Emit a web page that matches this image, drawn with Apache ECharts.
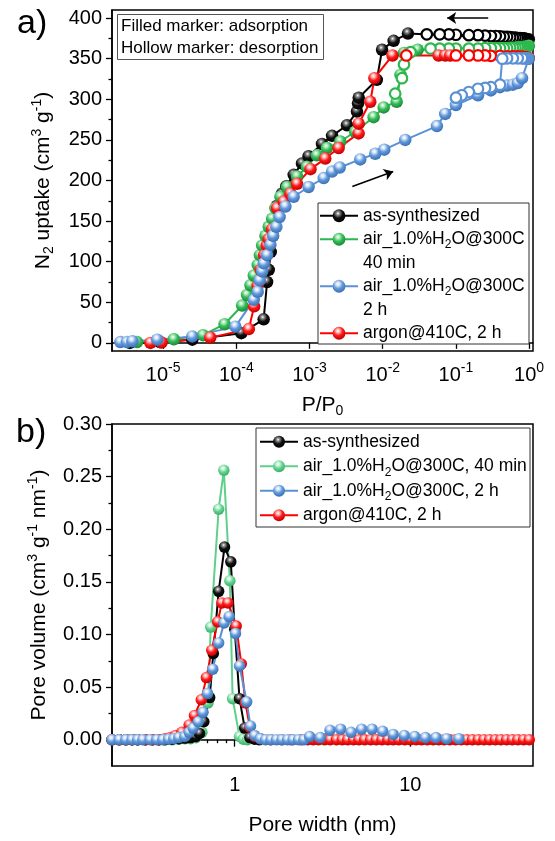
<!DOCTYPE html>
<html>
<head>
<meta charset="utf-8">
<script src="https://cdn.jsdelivr.net/npm/echarts@6/dist/echarts.min.js"></script>
<style>html,body{margin:0;padding:0;background:#fff}#c{width:555px;height:841px}</style>
</head>
<body>
<div id="c"></div>
<script>
// ===================== DATA =====================
// (a) N2 isotherms: relative pressure P/P0 and uptake (cm3 g-1)
const blackAdsP = [3.5e-6, 9e-6, 2.5e-5, 1.17e-4, 2.36e-4, 2.63e-4, 2.77e-4, 2.95e-4, 3.15e-4, 3.35e-4, 3.6e-4, 4.22e-4, 4.82e-4, 6.07e-4, 7.88e-4, 9.7e-4, 1.48e-3, 2.03e-3, 3.25e-3, 4.45e-3, 4.6e-3, 4.7e-3, 8.3e-3, 9.8e-3, 0.0141, 0.0221, 0.99];
const blackAdsV = [0, 1, 4, 12, 29, 75, 90, 112, 132, 150, 169, 184, 193, 207, 221, 230, 245, 255, 268, 285, 295, 302, 324, 361, 372, 381, 374];
const blackDesP = [0.95, 0.9, 0.85, 0.8, 0.75, 0.7, 0.65, 0.6, 0.55, 0.5, 0.45, 0.4, 0.35, 0.3, 0.25, 0.2, 0.15, 0.1, 0.08, 0.06, 0.04];
const blackDesV = [374, 374.5, 375, 375, 375.5, 375.5, 376, 376, 376.5, 377, 377, 377.5, 378, 378, 378.5, 379, 379, 379.5, 380, 380, 380];

const greenAdsP = [4.4e-6, 1.4e-5, 3.5e-5, 6.9e-5, 1.2e-4, 1.4e-4, 1.56e-4, 1.73e-4, 1.96e-4, 2.1e-4, 2.25e-4, 2.5e-4, 2.77e-4, 3.08e-4, 3.41e-4, 4.0e-4, 4.93e-4, 6.75e-4, 9.2e-4, 1.26e-3, 1.73e-3, 2.63e-3, 4.2e-3, 7.5e-3, 0.0103, 0.0155, 0.0175, 0.0195, 0.03, 0.99];
const greenAdsV = [1, 4.5, 9.5, 23, 46, 59, 71, 83, 96, 108, 120, 132, 143, 153, 166, 180, 192, 205, 217, 231, 240, 248, 260, 278, 290, 297, 330, 357, 361, 366];
const greenDesP = [0.95, 0.9, 0.85, 0.8, 0.75, 0.7, 0.65, 0.6, 0.55, 0.5, 0.45, 0.4, 0.35, 0.3, 0.25, 0.2, 0.15, 0.1, 0.08, 0.06, 0.045, 0.024, 0.0195, 0.0183, 0.0148];
const greenDesV = [365, 364.5, 364.5, 364, 364, 364, 363.5, 363.5, 363.5, 363, 363, 363, 363, 363, 363, 362.5, 362.5, 362.5, 362.5, 362.5, 362.5, 358, 343, 326, 307];

const blueAdsP = [2.6e-6, 3.2e-6, 3.8e-6, 8.3e-6, 2.5e-5, 9.7e-5, 1.73e-4, 1.96e-4, 2.08e-4, 2.25e-4, 2.37e-4, 2.63e-4, 2.92e-4, 3.18e-4, 3.52e-4, 3.9e-4, 4.68e-4, 6.07e-4, 9.7e-4, 1.56e-3, 2.03e-3, 2.58e-3, 4.93e-3, 7.9e-3, 0.0105, 0.0203, 0.055, 0.0714, 0.1, 0.2, 0.3, 0.4, 0.5, 0.6, 0.7, 0.8, 0.99];
const blueAdsV = [1, 1, 2, 4, 8, 20, 53, 63, 77, 88, 98, 108, 121, 132, 143, 155, 168, 180, 192, 203, 211, 216, 226, 233, 238, 250, 267, 282, 293, 305, 311, 315, 317, 318, 320, 326, 350];
const blueDesP = [0.95, 0.9, 0.85, 0.8, 0.7, 0.6, 0.5, 0.43, 0.4, 0.3, 0.25, 0.2, 0.15, 0.12, 0.1];
const blueDesV = [350.5, 350.5, 350.5, 350.5, 350.5, 350.5, 350.5, 350, 318, 315, 314, 313, 309, 305, 302];

const redAdsP = [6.7e-6, 9.5e-6, 4.4e-5, 1.48e-4, 1.75e-4, 1.95e-4, 2.15e-4, 2.4e-4, 2.6e-4, 2.77e-4, 3.08e-4, 3.6e-4, 4.43e-4, 5.47e-4, 6.75e-4, 1.03e-3, 1.64e-3, 2.5e-3, 4.68e-3, 4.7e-3, 6.76e-3, 7.7e-3, 0.0136, 0.058, 0.0715, 0.0836, 0.99];
const redAdsV = [0, 0.5, 6.5, 17, 45, 70, 90, 108, 120, 128, 140, 166, 174, 184, 196, 214, 227, 240, 258, 270, 297, 326, 354, 354, 354, 354, 351];
const redDesP = [0.95, 0.9, 0.8, 0.7, 0.6, 0.5, 0.4, 0.3, 0.25, 0.2, 0.15, 0.1, 0.021];
const redDesV = [351, 352, 352.5, 353, 353, 353, 353.5, 353.5, 354, 354, 354, 354, 354];

// arrows (data coordinates): [P, uptake]
const arrowDesFrom = [0.276, 400], arrowDesTo = [0.076, 400];
const arrowAdsFrom = [3.84e-3, 192.6], arrowAdsTo = [0.0139, 211];

// (b) pore size distributions: pore width (nm) and pore volume (cm3 g-1 nm-1)
const psdBlackW = [0.20, 0.22, 0.24, 0.26, 0.28, 0.31, 0.34, 0.37, 0.40, 0.44, 0.48, 0.52, 0.56, 0.60, 0.63, 0.667, 0.72, 0.755, 0.81, 0.875, 0.95, 1.00, 1.065, 1.14, 1.22, 1.30, 1.38];
const psdBlackV = [0, 0, 0, 0, 0, 0, 0, 0, 0, 0.0005, 0.001, 0.0015, 0.002, 0.003, 0.006, 0.017, 0.040, 0.082, 0.141, 0.183, 0.169, 0.105, 0.039, 0.011, 0.002, 0.0005, 0];
const psdGreenW = [0.20, 0.22, 0.24, 0.26, 0.28, 0.31, 0.34, 0.37, 0.40, 0.44, 0.48, 0.52, 0.56, 0.60, 0.65, 0.705, 0.73, 0.81, 0.867, 0.938, 0.973, 1.065, 1.12, 1.18];
const psdGreenV = [0, 0, 0, 0, 0, 0, 0, 0, 0, 0, 0.0005, 0.001, 0.001, 0.002, 0.007, 0.035, 0.107, 0.219, 0.256, 0.151, 0.039, 0.003, 0.0005, 0];
const psdBlueW = [0.20, 0.22, 0.24, 0.26, 0.28, 0.30, 0.33, 0.36, 0.39, 0.42, 0.45, 0.48, 0.52, 0.55, 0.58, 0.62, 0.66, 0.70, 0.75, 0.81, 0.87, 0.93, 1.01, 1.065, 1.17, 1.23, 1.30, 1.40, 1.50, 1.61, 1.73, 1.86, 2.00, 2.15, 2.31, 2.48, 2.67, 3.07, 3.49, 4.01, 4.60, 5.28, 6.06, 6.96, 7.99, 9.25, 10.6, 12.2, 14.0, 16.1, 18.9];
const psdBlueV = [0, 0, 0, 0, 0, 0, 0, 0, 0, 0.0005, 0.001, 0.002, 0.003, 0.007, 0.011, 0.017, 0.026, 0.044, 0.067, 0.092, 0.111, 0.117, 0.101, 0.070, 0.036, 0.013, 0.004, 0.001, 0, 0, 0, 0, 0, 0, 0, 0, 0.003, 0.002, 0.009, 0.010, 0.007, 0.010, 0.010, 0.008, 0.005, 0.004, 0.003, 0.002, 0.002, 0.001, 0.001];
const psdRedW = [0.20, 0.22, 0.24, 0.26, 0.28, 0.31, 0.34, 0.37, 0.40, 0.43, 0.46, 0.50, 0.55, 0.59, 0.645, 0.69, 0.74, 0.80, 0.845, 0.915, 1.02, 1.09, 1.15, 1.22, 1.30, 1.40, 1.6, 1.85, 2.1, 2.4, 2.6, 2.8, 3.0, 3.25, 3.5, 3.8, 4.1, 4.4, 4.75, 5.1, 5.5, 5.95, 6.4, 6.9, 7.45, 8.0, 8.6, 9.3, 10.0, 10.8, 11.6, 12.5, 13.5, 14.5, 15.6, 16.8, 18.1, 19.5, 21.0, 22.6, 24.4, 26.3, 28.3, 30.5, 32.8, 35.4, 38.1, 41.0, 44.2, 47.6];
const psdRedV = [0, 0, 0, 0, 0, 0, 0, 0, 0.001, 0.002, 0.004, 0.007, 0.014, 0.023, 0.038, 0.059, 0.085, 0.112, 0.130, 0.130, 0.108, 0.072, 0.035, 0.012, 0.003, 0.001, 0, 0, 0, 0, 0, 0, 0, 0, 0, 0, 0, 0, 0, 0, 0, 0, 0, 0, 0, 0, 0, 0, 0, 0, 0, 0, 0, 0, 0, 0, 0, 0, 0, 0, 0, 0, 0, 0, 0, 0, 0, 0, 0, 0];

// names
const nameBlack = 'as-synthesized';
const nameGreenA = 'air_1.0%H2O@300C\n40 min';
const nameBlueA = 'air_1.0%H2O@300C\n2 h';
const nameRed = 'argon@410C, 2 h';
const nameGreenB = 'air_1.0%H2O@300C, 40 min';
const nameBlueB = 'air_1.0%H2O@300C, 2 h';

// ticks
const isoXTicks = [1e-5, 1e-4, 1e-3, 1e-2, 1e-1, 1];
const isoYTicks = [0, 50, 100, 150, 200, 250, 300, 350, 400];
const isoYMinor = [25, 75, 125, 175, 225, 275, 325, 375];
const psdXTicks = [1, 10];
const psdXMinor = [0.3, 0.4, 0.5, 0.6, 0.7, 0.8, 0.9, 2, 3, 4, 5, 6, 7, 8, 9, 20, 30, 40];
const psdYTicks = [0, 0.05, 0.10, 0.15, 0.20, 0.25, 0.30];
const psdYMinor = [0.025, 0.075, 0.125, 0.175, 0.225, 0.275];

// ===================== STYLE =====================
const FONT = '"Liberation Sans", Arial, Helvetica, sans-serif';
const C = {
  black: {line: '#000000', base: '#101010', light: '#8c8c8c', dark: '#000000'},
  green: {line: '#2db84e', base: '#33bb55', light: '#b5ecc2', dark: '#1f8a3a'},
  greenB: {line: '#5fd08a', base: '#66d392', light: '#d0f5de', dark: '#3fae6c'},
  blue: {line: '#5a90d4', base: '#6199dc', light: '#dbe8f8', dark: '#3d72b5'},
  red: {line: '#ff0000', base: '#ff1a1a', light: '#ffc0c0', dark: '#c40000'}
};
function ball(c) {
  return {type: 'radial', x: 0.42, y: 0.32, r: 0.66, colorStops: [
    {offset: 0, color: '#ffffff'}, {offset: 0.2, color: c.light},
    {offset: 0.55, color: c.base}, {offset: 1, color: c.dark}]};
}
function isoSeries(name, c, aP, aV, dP, dV) {
  const data = aP.map((p, i) => [p, aV[i]]);
  dP.forEach((p, i) => data.push({value: [p, dV[i]], symbolSize: 10.5,
    itemStyle: {color: '#ffffff', borderColor: c.line, borderWidth: 2.2}}));
  return {type: 'line', name: name, xAxisIndex: 0, yAxisIndex: 0, data: data,
    symbol: 'circle', symbolSize: 12.5, showAllSymbol: true,
    lineStyle: {color: c.line, width: 2}, itemStyle: {color: ball(c)},
    emphasis: {disabled: true}, animation: false};
}
function psdSeries(name, c, W, V) {
  return {type: 'line', name: name, xAxisIndex: 1, yAxisIndex: 2,
    data: W.map((w, i) => [w, V[i]]), symbol: 'circle', symbolSize: 11.5, showAllSymbol: true,
    lineStyle: {color: c.line, width: 2}, itemStyle: {color: ball(c)},
    emphasis: {disabled: true}, animation: false};
}
const axisLineStyle = {show: true, lineStyle: {color: '#000', width: 1.5}};
const tickLine = {color: '#000', width: 1.3};
const nameRich = {
  sub: {fontSize: 14, verticalAlign: 'bottom', lineHeight: 14},
  sup: {fontSize: 14, verticalAlign: 'top', lineHeight: 14}
};
const nameStyle = {fontSize: 21, color: '#000', lineHeight: 26, fontFamily: FONT, rich: nameRich};

const blackTop = isoSeries(nameBlack, C.black, blackAdsP, blackAdsV, blackDesP, blackDesV);
blackTop.markLine = {
  silent: true, symbol: ['none', 'arrow'], symbolSize: 9, animation: false,
  label: {show: false}, lineStyle: {color: '#000', width: 1.6, type: 'solid'},
  emphasis: {disabled: true},
  data: [[{coord: arrowDesFrom}, {coord: arrowDesTo}], [{coord: arrowAdsFrom}, {coord: arrowAdsTo}]]
};

const legendRich = {sub: {fontSize: 12, verticalAlign: 'bottom', lineHeight: 12}};
const L1 = 23.5, L2 = 24.5;

const option = {
  animation: false,
  backgroundColor: '#ffffff',
  textStyle: {fontFamily: FONT},
  title: [
    {text: 'a)', left: 17, top: 6, padding: 0, textStyle: {fontSize: 34, fontWeight: 'normal', lineHeight: 36, color: '#000', fontFamily: FONT}},
    {text: 'b)', left: 16, top: 415, padding: 0, textStyle: {fontSize: 34, fontWeight: 'normal', lineHeight: 36, color: '#000', fontFamily: FONT}},
    {text: 'Filled marker: adsorption\nHollow marker: desorption', left: 117, top: 14, padding: [1, 5, 1, 4],
      borderColor: '#555', borderWidth: 1, backgroundColor: '#fff',
      textStyle: {fontSize: 17, lineHeight: 22, fontWeight: 'normal', color: '#000', fontFamily: FONT}}
  ],
  graphic: [
    {type: 'rect', shape: {x: 318, y: 203, width: 211, height: 141}, style: {fill: '#fff', stroke: '#333', lineWidth: 1}, z: 3, silent: true},
    {type: 'rect', shape: {x: 256, y: 428, width: 274, height: 99}, style: {fill: '#fff', stroke: '#333', lineWidth: 1}, z: 3, silent: true}
  ],
  legend: [
    {orient: 'vertical', left: 319, top: 204, itemWidth: 38, itemHeight: 16, itemGap: -L1, padding: 0,
      selectedMode: false, z: 5,
      textStyle: {fontSize: 17.5, lineHeight: L1, color: '#000', fontFamily: FONT, rich: legendRich},
      formatter: n => n.replace('H2O', 'H{sub|2}O'),
      data: [{name: nameBlack},
        {name: nameGreenA, textStyle: {padding: [L1, 0, 0, 0]}},
        {name: nameBlueA, textStyle: {padding: [L1, 0, 0, 0]}},
        {name: nameRed, textStyle: {padding: [L1, 0, L1, 0]}}]},
    {orient: 'vertical', left: 259, top: 429.5, itemWidth: 38, itemHeight: 15, itemGap: 0, padding: 0,
      selectedMode: false, z: 5,
      textStyle: {fontSize: 17.5, lineHeight: L2, color: '#000', fontFamily: FONT, rich: legendRich},
      formatter: n => n.replace('H2O', 'H{sub|2}O').trim(),
      data: []}
  ],
  grid: [
    {left: 112, right: 22, top: 10, height: 341, show: true, borderColor: '#000', borderWidth: 1.5, backgroundColor: 'transparent'},
    {left: 112, right: 22, top: 424, height: 342, show: true, borderColor: '#000', borderWidth: 1.5, backgroundColor: 'transparent'}
  ],
  xAxis: [
    {type: 'log', logBase: 10, gridIndex: 0, min: 2e-6, max: 1.13, position: 'bottom',
      axisLine: axisLineStyle, splitLine: {show: false}, minorTick: {show: false},
      axisTick: {show: true, length: 6, lineStyle: tickLine, customValues: isoXTicks},
      axisLabel: {customValues: isoXTicks, margin: 10, color: '#000',
        formatter: v => '{b|10}{s|' + Math.round(Math.log10(v)) + '}',
        rich: {b: {fontSize: 20, lineHeight: 28, color: '#000'}, s: {fontSize: 14, lineHeight: 14, verticalAlign: 'top', color: '#000'}}},
      name: 'P/P{sub|0}', nameLocation: 'middle', nameGap: 41, nameTextStyle: nameStyle},
    {type: 'log', logBase: 10, gridIndex: 1, min: 0.2, max: 50, position: 'bottom',
      axisLine: axisLineStyle, splitLine: {show: false}, minorTick: {show: false},
      axisTick: {show: true, length: 7, lineStyle: tickLine, customValues: psdXTicks},
      axisLabel: {customValues: psdXTicks, margin: 9, color: '#000', fontSize: 20, formatter: v => String(v)},
      name: 'Pore width (nm)', nameLocation: 'middle', nameGap: 46, nameTextStyle: nameStyle},
    {type: 'log', logBase: 10, gridIndex: 1, min: 0.2, max: 50, position: 'bottom',
      axisLine: {show: false}, splitLine: {show: false}, axisLabel: {show: false},
      axisTick: {show: true, length: 3.5, lineStyle: tickLine, customValues: psdXMinor}}
  ],
  yAxis: [
    {type: 'value', gridIndex: 0, min: -10, max: 410, position: 'left',
      axisLine: axisLineStyle, splitLine: {show: false},
      axisTick: {show: true, length: 6, lineStyle: tickLine, customValues: isoYTicks},
      axisLabel: {customValues: isoYTicks, margin: 10, fontSize: 20, color: '#000'},
      name: 'N{sub|2} uptake (cm{sup|3} g{sup|-1})', nameLocation: 'middle', nameGap: 56, nameRotate: 90, nameTextStyle: nameStyle},
    {type: 'value', gridIndex: 0, min: -10, max: 410, position: 'left',
      axisLine: {show: false}, splitLine: {show: false}, axisLabel: {show: false},
      axisTick: {show: true, length: 3.5, lineStyle: tickLine, customValues: isoYMinor}},
    {type: 'value', gridIndex: 1, min: -0.025, max: 0.30, position: 'left',
      axisLine: axisLineStyle, splitLine: {show: false},
      axisTick: {show: true, length: 6, lineStyle: tickLine, customValues: psdYTicks},
      axisLabel: {customValues: psdYTicks, margin: 10, fontSize: 20, color: '#000', formatter: v => v.toFixed(2)},
      name: 'Pore volume (cm{sup|3} g{sup|-1} nm{sup|-1})', nameLocation: 'middle', nameGap: 59, nameRotate: 90, nameTextStyle: nameStyle},
    {type: 'value', gridIndex: 1, min: -0.025, max: 0.30, position: 'left',
      axisLine: {show: false}, splitLine: {show: false}, axisLabel: {show: false},
      axisTick: {show: true, length: 3.5, lineStyle: tickLine, customValues: psdYMinor}}
  ],
  series: [
    blackTop,
    isoSeries(nameGreenA, C.green, greenAdsP, greenAdsV, greenDesP, greenDesV),
    isoSeries(nameRed, C.red, redAdsP, redAdsV, redDesP, redDesV),
    isoSeries(nameBlueA, C.blue, blueAdsP, blueAdsV, blueDesP, blueDesV),
    psdSeries(nameGreenB, C.greenB, psdGreenW, psdGreenV),
    psdSeries(nameBlack + ' ', C.black, psdBlackW, psdBlackV),
    psdSeries(nameRed + ' ', C.red, psdRedW, psdRedV),
    psdSeries(nameBlueB, C.blue, psdBlueW, psdBlueV)
  ]
};
// bottom legend refers to its own series names (trailing space distinguishes black/red of panel b)
option.legend[1].data = [nameBlack + ' ', nameGreenB, nameBlueB, nameRed + ' '];

const chart = echarts.init(document.getElementById('c'), null, {renderer: 'canvas', devicePixelRatio: 1});
chart.setOption(option);
</script>
</body>
</html>
